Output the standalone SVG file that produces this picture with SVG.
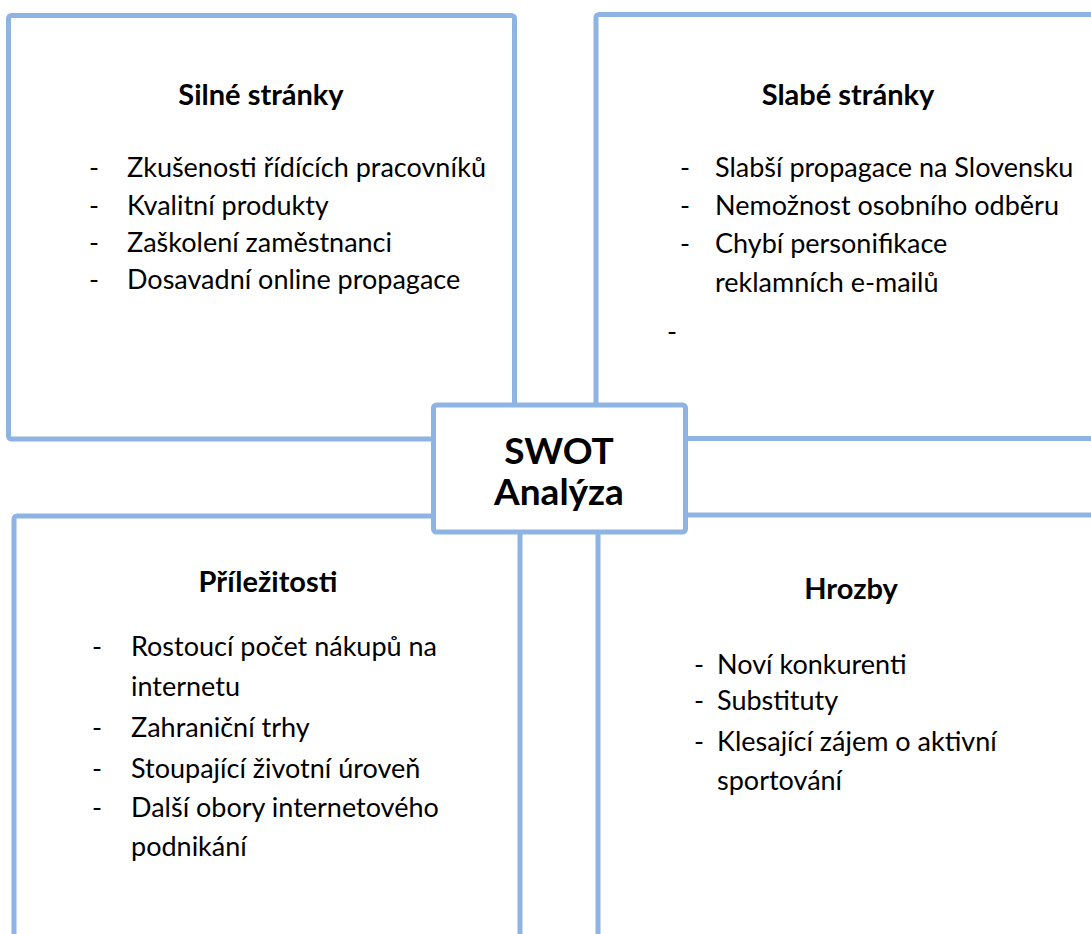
<svg xmlns="http://www.w3.org/2000/svg" width="1091" height="934" viewBox="0 0 1091 934">
<style>
.box{fill:#ffffff;stroke:#8eb4e3;stroke-width:5}
.h{font-family:Lato,"Liberation Sans",sans-serif;font-weight:bold;font-size:29px;fill:#000;text-anchor:middle}
.t{font-family:Lato,"Liberation Sans",sans-serif;font-size:27px;fill:#000}
.c{font-family:Lato,"Liberation Sans",sans-serif;font-weight:bold;font-size:37px;fill:#000;text-anchor:middle}
</style>
<rect width="1091" height="934" fill="#ffffff"/>
<g id="strengths">
<rect class="box" x="8.5" y="15.5" width="506" height="423.5" rx="3"/>
<text class="h" x="261" y="105">Silné stránky</text>
<text class="t" x="89" y="177">-</text><text class="t" x="127" y="177">Zkušenosti řídících pracovníků</text>
<text class="t" x="89" y="215">-</text><text class="t" x="127" y="215">Kvalitní produkty</text>
<text class="t" x="89" y="252">-</text><text class="t" x="127" y="252">Zaškolení zaměstnanci</text>
<text class="t" x="89" y="289">-</text><text class="t" x="127" y="289">Dosavadní online propagace</text>
</g>
<g id="weaknesses">
<rect class="box" x="596" y="14.5" width="520" height="424" rx="3"/>
<text class="h" x="848" y="105">Slabé stránky</text>
<text class="t" x="680" y="177">-</text><text class="t" x="715" y="177">Slabší propagace na Slovensku</text>
<text class="t" x="680" y="215">-</text><text class="t" x="715" y="215">Nemožnost osobního odběru</text>
<text class="t" x="680" y="253">-</text><text class="t" x="715" y="253">Chybí personifikace</text>
<text class="t" x="715" y="292">reklamních e-mailů</text>
<text class="t" x="667" y="341">-</text>
</g>
<g id="opportunities">
<rect class="box" x="14" y="516" width="506" height="450" rx="3"/>
<text class="h" x="268" y="592">Příležitosti</text>
<text class="t" x="92" y="656">-</text><text class="t" x="131" y="656">Rostoucí počet nákupů na</text>
<text class="t" x="131" y="696">internetu</text>
<text class="t" x="92" y="737">-</text><text class="t" x="131" y="737">Zahraniční trhy</text>
<text class="t" x="92" y="778">-</text><text class="t" x="131" y="778">Stoupající životní úroveň</text>
<text class="t" x="92" y="817">-</text><text class="t" x="131" y="817">Další obory internetového</text>
<text class="t" x="131" y="856">podnikání</text>
</g>
<g id="threats">
<rect class="box" x="598" y="515" width="520" height="450" rx="3"/>
<text class="h" x="851" y="599">Hrozby</text>
<text class="t" x="694" y="674">-</text><text class="t" x="717" y="674">Noví konkurenti</text>
<text class="t" x="694" y="710">-</text><text class="t" x="717" y="710">Substituty</text>
<text class="t" x="694" y="751">-</text><text class="t" x="717" y="751">Klesající zájem o aktivní</text>
<text class="t" x="717" y="790">sportování</text>
</g>
<g id="swot">
<rect class="box" x="433.5" y="405" width="252" height="127" rx="3"/>
<text class="c" x="559" y="464">SWOT</text>
<text class="c" x="559" y="505">Analýza</text>
</g>
</svg>
